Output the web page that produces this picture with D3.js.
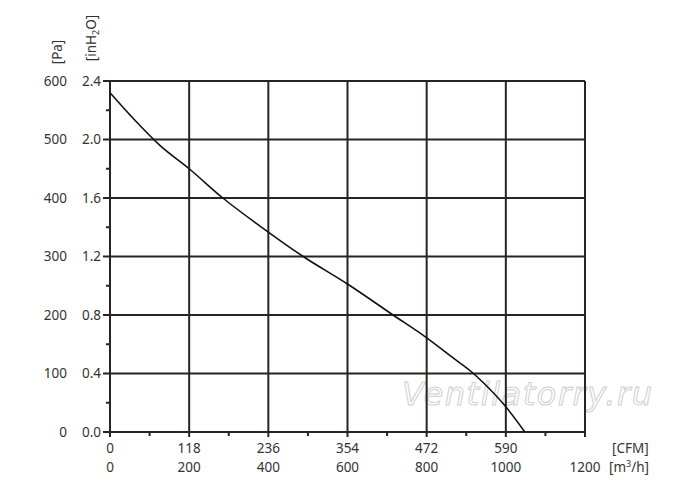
<!DOCTYPE html>
<html><head><meta charset="utf-8">
<script src="https://cdn.jsdelivr.net/npm/d3@7"></script>
<style>body{margin:0;background:#fff}svg{display:block}text{font-family:"Noto Sans",sans-serif;fill:#333}</style>
</head><body>
<svg id="c" width="700" height="494"></svg>
<script>
const flowM3h = [0, 60, 126, 200, 285, 379, 488, 600, 715, 800, 870, 913, 942, 1000, 1048];
const pressurePa = [580, 535, 490, 450, 400, 352, 300, 253, 200, 161, 125, 103, 85, 43, 0];
const xTicksM3h = [0, 200, 400, 600, 800, 1000, 1200];
const xTicksCFM = ["0", "118", "236", "354", "472", "590"];
const yTicksPa = [0, 100, 200, 300, 400, 500, 600];
const yTicksInH2O = ["0.0", "0.4", "0.8", "1.2", "1.6", "2.0", "2.4"];

const svg = d3.select("#c");
const x = d3.scaleLinear().domain([0, 1200]).range([110, 585]);
const y = d3.scaleLinear().domain([0, 600]).range([432, 81]);
const gridCol = "#2a2323";

// watermark (behind grid)
svg.append("text").attr("x", 402).attr("y", 405)
  .attr("textLength", 250).attr("lengthAdjust", "spacing")
  .style("font-family", "'DejaVu Sans', sans-serif")
  .style("font-style", "italic").style("font-size", "32px")
  .style("fill", "#fff").style("stroke", "#cfcfcf").style("stroke-width", 1)
  .text("Ventilatorry.ru");

// horizontal grid
svg.selectAll("line.h").data(yTicksPa).join("line")
  .attr("x1", 103).attr("x2", x(1200))
  .attr("y1", d => y(d)).attr("y2", d => y(d))
  .attr("stroke", gridCol).attr("stroke-width", 2);
// vertical grid
svg.selectAll("line.v").data(xTicksM3h).join("line")
  .attr("x1", d => x(d)).attr("x2", d => x(d))
  .attr("y1", y(600)).attr("y2", 437)
  .attr("stroke", gridCol).attr("stroke-width", 2);
// minor ticks
const minorY = d3.range(50, 600, 100);
svg.selectAll("line.my").data(minorY).join("line")
  .attr("x1", 106).attr("x2", 110)
  .attr("y1", d => y(d)).attr("y2", d => y(d))
  .attr("stroke", gridCol).attr("stroke-width", 2);
const minorX = d3.range(100, 1200, 200);
svg.selectAll("line.mx").data(minorX).join("line")
  .attr("x1", d => x(d)).attr("x2", d => x(d))
  .attr("y1", 432).attr("y2", 436)
  .attr("stroke", gridCol).attr("stroke-width", 2);

// curve
const pts = flowM3h.map((f, i) => [f, pressurePa[i]]);
svg.append("path").datum(pts)
  .attr("d", d3.line().x(d => x(d[0])).y(d => y(d[1])).curve(d3.curveMonotoneX))
  .attr("fill", "none").attr("stroke", "#111").attr("stroke-width", 1.6);

// y labels
svg.selectAll("text.pa").data(yTicksPa).join("text")
  .attr("x", 67).attr("y", d => y(d)).attr("dy", "0.35em")
  .attr("text-anchor", "end").style("font-size", "13.5px").text(d => d);
svg.selectAll("text.in").data(yTicksInH2O).join("text")
  .attr("x", 101).attr("y", (d, i) => y(yTicksPa[i])).attr("dy", "0.35em")
  .attr("text-anchor", "end").style("font-size", "13.5px").text(d => d);
// x labels
svg.selectAll("text.cfm").data(xTicksCFM).join("text")
  .attr("x", (d, i) => x(xTicksM3h[i])).attr("y", 453)
  .attr("text-anchor", "middle").style("font-size", "13.5px").text(d => d);
svg.selectAll("text.m3").data(xTicksM3h).join("text")
  .attr("x", d => x(d)).attr("y", 472)
  .attr("text-anchor", "middle").style("font-size", "13.5px").text(d => d);

// unit labels
svg.append("text").attr("x", 612).attr("y", 453).style("font-size", "13.5px").text("[CFM]");
const m3 = svg.append("text").attr("x", 609).attr("y", 472).style("font-size", "13.5px");
m3.append("tspan").text("[m");
m3.append("tspan").attr("dy", -5).style("font-size", "9px").text("3");
m3.append("tspan").attr("dy", 5).text("/h]");
svg.append("text").attr("transform", "translate(62,52) rotate(-90)")
  .attr("text-anchor", "middle").style("font-size", "13.5px").text("[Pa]");
const ih = svg.append("text").attr("transform", "translate(96,38) rotate(-90)")
  .attr("text-anchor", "middle").style("font-size", "13.5px");
ih.append("tspan").text("[inH");
ih.append("tspan").style("font-size", "9px").attr("dy", 3).text("2");
ih.append("tspan").attr("dy", -3).text("O]");
</script>
</body></html>
